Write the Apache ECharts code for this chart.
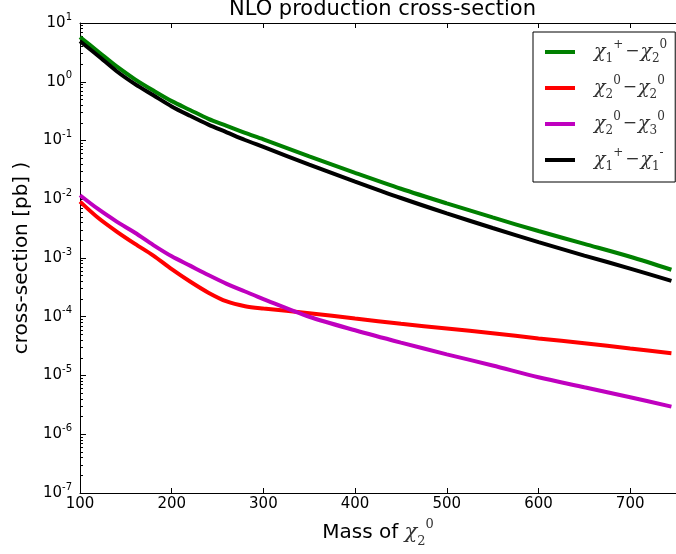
<!DOCTYPE html>
<html><head><meta charset="utf-8">
<script src="https://cdn.jsdelivr.net/npm/echarts@6/dist/echarts.min.js"></script>
<style>html,body{margin:0;padding:0;background:#fff}#c{width:676px;height:554px}</style>
</head><body><div id="c"></div>
<script>
// ---- data ----
const mass = [100,120,140,160,180,200,220,240,260,280,300,350,400,450,500,550,600,650,700,745];
const chi1pChi20 = [5.75,3.24,1.82,1.10,0.708,0.468,0.331,0.234,0.178,0.135,0.105,0.0537,0.0282,0.0151,0.00851,0.0049,0.00288,0.00174,0.00105,0.000631];
const chi20Chi20 = [0.00912,0.00479,0.00282,0.00174,0.00110,0.000646,0.000398,0.000257,0.000182,0.000151,0.000138,0.000115,9.33e-5,7.59e-5,6.31e-5,5.25e-5,4.27e-5,3.55e-5,2.88e-5,2.40e-5];
const chi20Chi30 = [0.0117,0.00676,0.00417,0.00269,0.00166,0.00107,0.000741,0.000513,0.000363,0.000269,0.000200,0.000100,5.89e-5,3.63e-5,2.29e-5,1.48e-5,9.33e-6,6.31e-6,4.27e-6,2.95e-6];
const chi1pChi1m = [4.90,2.75,1.51,0.912,0.589,0.380,0.263,0.186,0.138,0.102,0.0776,0.0389,0.0200,0.0105,0.00575,0.00324,0.00186,0.00110,0.000661,0.000407];
const seriesNames = ['c1p-c20','c20-c20','c20-c30','c1p-c1m'];
const legendParts = [['1','+','2','0'],['2','0','2','0'],['2','0','3','0'],['1','+','1','-']];
const seriesColors = ['#008000','#ff0000','#bf00bf','#000000'];
const xTicks = [100,200,300,400,500,600,700];

const chart = echarts.init(document.getElementById('c'), null, {renderer:'canvas'});
const allData = [chi1pChi20, chi20Chi20, chi20Chi30, chi1pChi1m];
const serif = 'DejaVu Serif';
const legendRich = {
  chi:{fontFamily:serif, fontStyle:'italic', fontSize:19, color:'#333', lineHeight:26, verticalAlign:'middle'},
  sub:{fontFamily:serif, fontSize:12, color:'#333', lineHeight:12, verticalAlign:'bottom'},
  sup:{fontFamily:serif, fontSize:12, color:'#333', lineHeight:12, verticalAlign:'top'},
  m:{fontFamily:serif, fontSize:17, color:'#333', lineHeight:26, verticalAlign:'middle', padding:[0,1,0,2]}
};
const lineSeries = seriesNames.map((n,i) => ({
  name:n, type:'line', data: mass.map((m,j)=>[m, allData[i][j]]),
  showSymbol:false, smooth:0.3, color:seriesColors[i],
  lineStyle:{width:4, color:seriesColors[i]}, z:2, silent:true
}));
const option = {
  animation:false,
  backgroundColor:'#fff',
  title:{text:'NLO production cross-section', left:229, top:-1, padding:0,
    textStyle:{fontFamily:'DejaVu Sans', fontSize:21, fontWeight:'normal', color:'#000'}},
  legend:{
    data:seriesNames, orient:'vertical', left:533, top:32,
    padding:[7,8,9,12], itemGap:10, itemWidth:30, itemHeight:4, icon:'rect',
    borderColor:'#000', borderWidth:1, backgroundColor:'#fff',
    formatter: name => {
      const p = legendParts[seriesNames.indexOf(name)];
      return '{chi|χ}{sub|'+p[0]+'}{sup|'+p[1]+'}{m|−}{chi|χ}{sub|'+p[2]+'}{sup|'+p[3]+'}';
    },
    textStyle:{padding:[0,0,0,14], rich:legendRich}
  },
  grid:{left:80, top:23, width:601, height:470, containLabel:false},
  xAxis:[{
    type:'value', min:100, max:750, interval:100, position:'bottom',
    name:'{a|Mass of }{chi|χ}{sub|2}{sup|0}', nameLocation:'middle', nameGap:25,
    nameTextStyle:{rich:{
      a:{fontFamily:'DejaVu Sans', fontSize:20, color:'#000', lineHeight:30, verticalAlign:'middle'},
      chi:{fontFamily:serif, fontStyle:'italic', fontSize:21, color:'#333', lineHeight:30, verticalAlign:'middle'},
      sub:{fontFamily:serif, fontSize:13, color:'#333', lineHeight:13, verticalAlign:'bottom'},
      sup:{fontFamily:serif, fontSize:13, color:'#333', lineHeight:13, verticalAlign:'top'}
    }},
    axisLine:{show:true, lineStyle:{color:'#000', width:1}},
    axisTick:{show:true, inside:true, length:5, lineStyle:{color:'#000'}},
    axisLabel:{fontFamily:'DejaVu Sans', fontSize:15, color:'#000', margin:4, showMaxLabel:false,
      formatter: v => xTicks.indexOf(v) >= 0 ? String(v) : ''},
    splitLine:{show:false}
  },{
    type:'value', min:100, max:750, interval:100, position:'top',
    axisLine:{show:true, lineStyle:{color:'#000', width:1}},
    axisTick:{show:true, inside:true, length:5, lineStyle:{color:'#000'}},
    axisLabel:{show:false}, splitLine:{show:false}
  }],
  yAxis:{
    type:'log', logBase:10, min:1e-7, max:10, splitNumber:8,
    name:'cross-section [pb] )', nameLocation:'middle', nameGap:44, nameRotate:90,
    nameTextStyle:{fontFamily:'DejaVu Sans', fontSize:20, color:'#000'},
    axisLine:{show:true, lineStyle:{color:'#000', width:1}},
    axisTick:{show:true, inside:true, length:6, lineStyle:{color:'#000', width:1}},
    minorTick:{show:true, splitNumber:9, length:3, lineStyle:{color:'#000', width:1}},
    axisLabel:{margin:8, formatter: v => '{b|10}{s|' + Math.round(Math.log10(v)) + '}',
      rich:{
        b:{fontFamily:'DejaVu Sans', fontSize:15, color:'#000', lineHeight:22, verticalAlign:'middle'},
        s:{fontFamily:'DejaVu Sans', fontSize:10, color:'#000', lineHeight:10, verticalAlign:'top'}
      }},
    splitLine:{show:false}
  },
  series: lineSeries
};
chart.setOption(option);
</script>
</body></html>
